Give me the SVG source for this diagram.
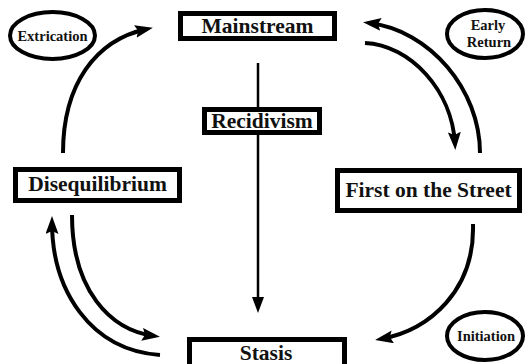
<svg xmlns="http://www.w3.org/2000/svg" width="526" height="364" viewBox="0 0 526 364">
<style>
.box{fill:#fff;stroke:#000;stroke-width:5}
.ell{fill:#fff;stroke:#000;stroke-width:4}
.t{font-family:"Liberation Serif","Times New Roman",serif;font-weight:bold;fill:#111;text-anchor:middle}
.big{font-size:21.5px}
.small{font-size:14.5px}
.arc{fill:none;stroke:#000;stroke-width:4;marker-end:url(#ah)}
.line{fill:none;stroke:#000;stroke-width:2.5;marker-end:url(#ah2)}
</style>
<defs>
<marker id="ah" markerUnits="userSpaceOnUse" markerWidth="18" markerHeight="13" refX="12" refY="6.5" orient="auto">
<path d="M0,0 L18,6.5 L0,13 L3,6.5 z" fill="#000"/>
</marker>
<marker id="ah2" markerUnits="userSpaceOnUse" markerWidth="16" markerHeight="12" refX="10" refY="6" orient="auto">
<path d="M0,0 L16,6 L0,12 z" fill="#000"/>
</marker>
</defs>
<g id="connectors">
<path class="line" d="M258,63 L258,307"/>
<path class="arc" d="M63,153 C63,85 95,40 147,29"/>
<path class="arc" d="M365,43 C410,45 452,90 455,144"/>
<path class="arc" d="M480,153 C480,90 430,30 369,23"/>
<path class="arc" d="M473,224 C475,290 430,330 381,339"/>
<path class="arc" d="M72,215 C72,290 110,330 154,336"/>
<path class="arc" d="M160,355 C90,350 52,290 52,222"/>
</g>
<g id="mainstream">
<rect class="box" x="180.5" y="13.5" width="154" height="25"/>
<text class="t big" x="257.5" y="33">Mainstream</text>
</g>
<g id="recidivism">
<rect class="box" x="204.5" y="109.5" width="115" height="23"/>
<text class="t big" x="262" y="128">Recidivism</text>
</g>
<g id="disequilibrium">
<rect class="box" x="15.5" y="169.5" width="164" height="31"/>
<text class="t big" x="97.5" y="191">Disequilibrium</text>
</g>
<g id="first-on-the-street">
<rect class="box" x="337.5" y="170.5" width="182" height="40"/>
<text class="t big" x="428.5" y="197">First on the Street</text>
</g>
<g id="stasis">
<rect class="box" x="189.5" y="339.5" width="155" height="30"/>
<text class="t big" x="266" y="360">Stasis</text>
</g>
<g id="extrication">
<ellipse class="ell" cx="52.5" cy="35.5" rx="42.5" ry="23.5"/>
<text class="t small" x="52.5" y="40.5">Extrication</text>
</g>
<g id="early-return">
<ellipse class="ell" cx="485" cy="34" rx="38" ry="24"/>
<text class="t small" x="488" y="30">Early</text>
<text class="t small" x="489" y="47">Return</text>
</g>
<g id="initiation">
<ellipse class="ell" cx="485" cy="336" rx="38" ry="24"/>
<text class="t small" x="486" y="341">Initiation</text>
</g>
</svg>
